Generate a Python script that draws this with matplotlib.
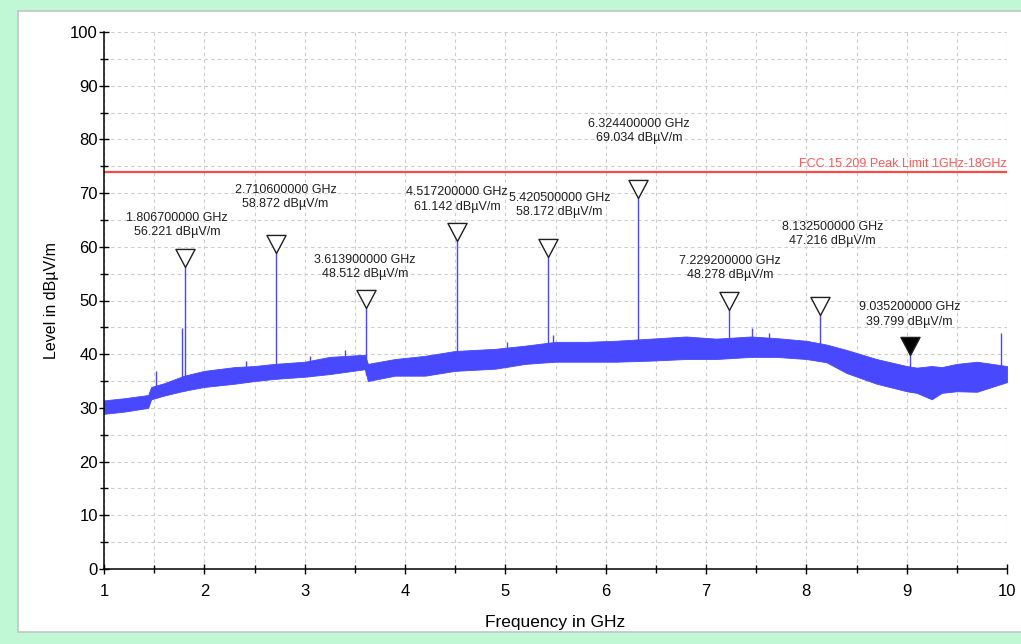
#!/usr/bin/env python

import numpy as np
import matplotlib

matplotlib.use('Agg')
import matplotlib.pyplot as plt
from matplotlib.patches import Rectangle
from matplotlib.path import Path

plt.rcParams['font.family'] = ['Liberation Sans', 'DejaVu Sans']

# noise floor envelope of the sweep (GHz, dBuV/m)
floor_freq = [1.0, 1.2, 1.44, 1.47, 1.6, 1.8, 2.0, 2.3, 2.5, 2.7, 3.0, 3.25, 3.6, 3.63,
              3.9, 4.2, 4.5, 4.9, 5.2, 5.5, 5.8, 6.1, 6.45, 6.8, 7.1, 7.45, 7.7, 8.0,
              8.2, 8.4, 8.7, 9.0, 9.1, 9.25, 9.35, 9.5, 9.7, 10.0]
floor_low = [28.9, 29.3, 30.0, 31.6, 32.3, 33.2, 33.9, 34.5, 35.0, 35.4, 35.8, 36.3, 37.2, 35.0,
             36.0, 36.0, 36.9, 37.3, 38.2, 38.6, 38.6, 38.6, 38.8, 39.1, 39.1, 39.5, 39.5, 39.1,
             38.5, 36.5, 34.5, 33.1, 32.8, 31.6, 32.8, 33.1, 33.0, 34.8]
floor_high = [31.4, 31.8, 32.4, 33.9, 34.6, 36.0, 36.9, 37.6, 37.8, 38.2, 38.6, 39.5, 39.9, 38.2,
              39.1, 39.7, 40.6, 41.0, 41.6, 42.3, 42.3, 42.5, 42.9, 43.3, 42.9, 43.3, 43.0, 42.5,
              41.8, 40.8, 39.1, 37.8, 37.5, 37.8, 37.6, 38.2, 38.6, 37.8]

# small unmarked spurs
spur_freq = [1.52, 1.78, 2.42, 3.05, 3.40, 5.02, 5.48, 7.46, 7.63, 9.94]
spur_level = [36.9, 44.8, 38.8, 39.7, 40.7, 42.3, 43.5, 44.8, 44.0, 44.0]

# marker peaks
peak_freq = [1.8067, 2.7106, 3.6139, 4.5172, 5.4205, 6.3244, 7.2292, 8.1325, 9.0352]
peak_level = [56.221, 58.872, 48.512, 61.142, 58.172, 69.034, 48.278, 47.216, 39.799]
peak_text = ['1.806700000 GHz', '2.710600000 GHz', '3.613900000 GHz', '4.517200000 GHz',
             '5.420500000 GHz', '6.324400000 GHz', '7.229200000 GHz', '8.132500000 GHz',
             '9.035200000 GHz']

limit_level = 74
limit_text = 'FCC 15.209 Peak Limit 1GHz-18GHz'

# where the marker readouts sit
label_x = [1.73, 2.81, 3.60, 4.52, 5.54, 6.33, 7.24, 8.26, 9.03]
label_y = [64.0, 69.3, 56.2, 68.8, 67.8, 81.5, 56.0, 62.4, 47.4]

trace_color = '#4848ff'

fig = plt.figure(figsize=(10.21, 6.44), dpi=100, facecolor='#c0f8d6')
fig.patches.append(Rectangle((18 / 1021., 1 - 632 / 644.), 1.1, (632 - 11) / 644.,
                             transform=fig.transFigure, facecolor='white',
                             edgecolor='#c4c4c4', linewidth=1.2, zorder=-10))

ax = fig.add_axes([104 / 1021., 1 - 569 / 644., (1007 - 104) / 1021., (569 - 32) / 644.])
ax.set_zorder(1)
ax.set_facecolor('white')

ax.fill_between(floor_freq, floor_low, floor_high, color=trace_color, linewidth=0.6,
                edgecolor=trace_color, zorder=3)

spur_base = np.interp(spur_freq, floor_freq, floor_low)
ax.vlines(spur_freq, spur_base, spur_level, color=trace_color, linewidth=1.0, zorder=3)

peak_base = np.interp(peak_freq, floor_freq, floor_low)
ax.vlines(peak_freq, peak_base, peak_level, color=trace_color, linewidth=1.0, zorder=3)

ax.axhline(limit_level, color='#ff4848', linewidth=1.6, zorder=4)
ax.text(10.0, limit_level + 0.3, limit_text, color='#ff5a5a', fontsize=9,
        ha='right', va='bottom', zorder=4)

# triangle with its tip on the peak
tri = Path([(-0.53, 1.0), (0.53, 1.0), (0.0, 0.0), (-0.53, 1.0)],
           [Path.MOVETO, Path.LINETO, Path.LINETO, Path.CLOSEPOLY])
for i in range(len(peak_freq)):
    face = 'black' if i == len(peak_freq) - 1 else 'white'
    ax.plot([peak_freq[i]], [peak_level[i]], marker=tri, markersize=26,
            markerfacecolor=face, markeredgecolor='#202020', markeredgewidth=1.0,
            linestyle='none', zorder=5)
    ax.text(label_x[i], label_y[i], '%s\n%.3f dBµV/m' % (peak_text[i], peak_level[i]),
            fontsize=9, ha='center', va='center', color='#202020', zorder=5,
            linespacing=1.25)

ax.set_xlim(1, 10)
ax.set_ylim(0, 100)
ax.set_xticks(np.arange(1, 11, 1))
ax.set_xticks(np.arange(1.5, 10, 1), minor=True)
ax.set_yticks(np.arange(0, 101, 10))
ax.set_yticks(np.arange(5, 100, 10), minor=True)

ax.grid(True, which='both', color='#cccccc', linestyle=(0, (3, 3)), linewidth=0.8, zorder=1)
ax.set_axisbelow(True)

for s in ['top', 'right']:
    ax.spines[s].set_visible(False)
for s in ['left', 'bottom']:
    ax.spines[s].set_linewidth(1.1)
    ax.spines[s].set_zorder(6)

ax.tick_params(axis='both', which='major', direction='inout', length=7, width=1,
               labelsize=12, colors='black')
ax.tick_params(axis='both', which='minor', direction='inout', length=6, width=1)
ax.tick_params(axis='y', which='major', pad=1)
ax.tick_params(axis='x', which='major', pad=7)

ax.set_xlabel('Frequency in GHz', fontsize=12.5, labelpad=12)
ax.set_ylabel('Level in dBµV/m', fontsize=11.5, labelpad=8)

plt.savefig('out.png', dpi=100, facecolor=fig.get_facecolor())
